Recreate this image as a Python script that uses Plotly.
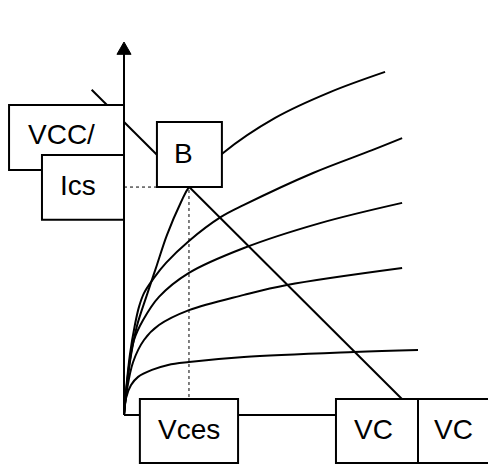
import plotly.graph_objects as go

# collector characteristic curves (Vce, Ic)
ib1_vce = [0, 0.07, 0.24, 0.44, 0.78, 1.12, 1.46, 1.94, 2.21, 3.37, 5.14, 7.01, 8.88]
ib1_ic = [0, 0.75, 2.05, 3.04, 4.10, 5.12, 6.14, 7.27, 7.78, 8.94, 10.14, 11.02, 11.71]

ib2_vce = [0, 0.07, 0.20, 0.37, 0.51, 0.68, 1.02, 1.43, 2.21, 3.30, 4.08, 6.43, 8.44, 9.46]
ib2_ic = [0, 0.85, 2.05, 3.07, 3.69, 4.16, 4.68, 5.19, 5.94, 6.76, 7.17, 8.26, 9.04, 9.45]

ib3_vce = [0, 0.07, 0.20, 0.34, 0.65, 1.19, 2.21, 4.08, 6.67, 9.46]
ib3_ic = [0, 0.78, 1.88, 2.56, 3.24, 4.03, 4.85, 5.70, 6.55, 7.24]

ib4_vce = [0, 0.10, 0.31, 0.68, 1.19, 2.21, 4.08, 5.54, 9.46]
ib4_ic = [0, 0.85, 1.81, 2.56, 3.07, 3.58, 4.10, 4.44, 5.02]

ib5_vce = [0, 0.07, 0.24, 0.48, 0.95, 1.50, 2.21, 4.08, 7.82, 10.0]
ib5_ic = [0, 0.58, 1.02, 1.30, 1.54, 1.71, 1.81, 1.98, 2.15, 2.22]

# load line and operating point
load_vce = [-1.1, 10.0]
load_ic = [11.1, 0.0]
vces = 2.21
ics = 7.78
vcc = 10.0
ic_axis_top = 12.73

# scale of the drawing: 29.4 px per volt, 29.3 px per mA
# the page body has an 8px margin, so origin sits at (116, 407) inside the figure
W, H = 496, 465
ox, oy = 116, 407
x_range = [-ox / 29.4, (W - ox) / 29.4]
y_range = [(oy - H) / 29.3, oy / 29.3]

black = dict(color="black", width=2)

fig = go.Figure()

# axes
fig.add_trace(go.Scatter(x=[0, 0], y=[0, ic_axis_top - 0.3], mode="lines", line=black))
fig.add_trace(go.Scatter(x=[0, vcc], y=[0, 0], mode="lines", line=black))

# dotted guides to the saturation point
fig.add_trace(go.Scatter(x=[0, vces], y=[ics, ics], mode="lines",
                         line=dict(color="black", width=1, dash="dot")))
fig.add_trace(go.Scatter(x=[vces, vces], y=[0, ics], mode="lines",
                         line=dict(color="black", width=1, dash="dot")))

for vx, iy in [(ib1_vce, ib1_ic), (ib2_vce, ib2_ic), (ib3_vce, ib3_ic),
               (ib4_vce, ib4_ic), (ib5_vce, ib5_ic)]:
    fig.add_trace(go.Scatter(x=vx, y=iy, mode="lines",
                             line=dict(color="black", width=2, shape="spline", smoothing=1.0)))

fig.add_trace(go.Scatter(x=load_vce, y=load_ic, mode="lines", line=black))

# arrow head on the Ic axis
fig.add_shape(type="path",
              path="M 0 %.2f L -0.24 %.2f L 0.24 %.2f Z" % (ic_axis_top, ic_axis_top - 0.42, ic_axis_top - 0.42),
              fillcolor="black", line=dict(color="black", width=1))

# label boxes (white, drawn over the lines)
boxes = [
    (-3.91, 8.36, 0.0, 10.58),   # VCC/
    (-2.79, 6.66, 0.0, 8.87),    # Ics
    (1.12, 7.78, 3.33, 10.0),    # B
    (0.54, -1.64, 3.88, 0.55),   # Vces
    (7.21, -1.64, 10.0, 0.55),   # VC
    (10.0, -1.64, 12.62, 0.55),  # VC
]
for x0, y0, x1, y1 in boxes:
    fig.add_shape(type="rect", x0=x0, y0=y0, x1=x1, y1=y1, layer="above",
                  fillcolor="white", line=dict(color="black", width=2))

labels = [
    ("VCC/", -2.11, 9.56),
    ("Ics", -1.55, 7.85),
    ("B", 2.04, 8.94),
    ("Vces", 2.21, -0.51),
    ("VC", 8.47, -0.51),
    ("VC", 11.22, -0.51),
]
for txt, lx, ly in labels:
    fig.add_annotation(x=lx, y=ly, text=txt, showarrow=False,
                       xanchor="center", yanchor="middle",
                       font=dict(family="Liberation Sans, Arial", size=28, color="black"))

fig.update_xaxes(range=x_range, visible=False)
fig.update_yaxes(range=y_range, visible=False)
fig.update_layout(width=W, height=H, margin=dict(l=0, r=0, t=0, b=0),
                  showlegend=False, plot_bgcolor="white", paper_bgcolor="white")

fig.write_html("out.html")
